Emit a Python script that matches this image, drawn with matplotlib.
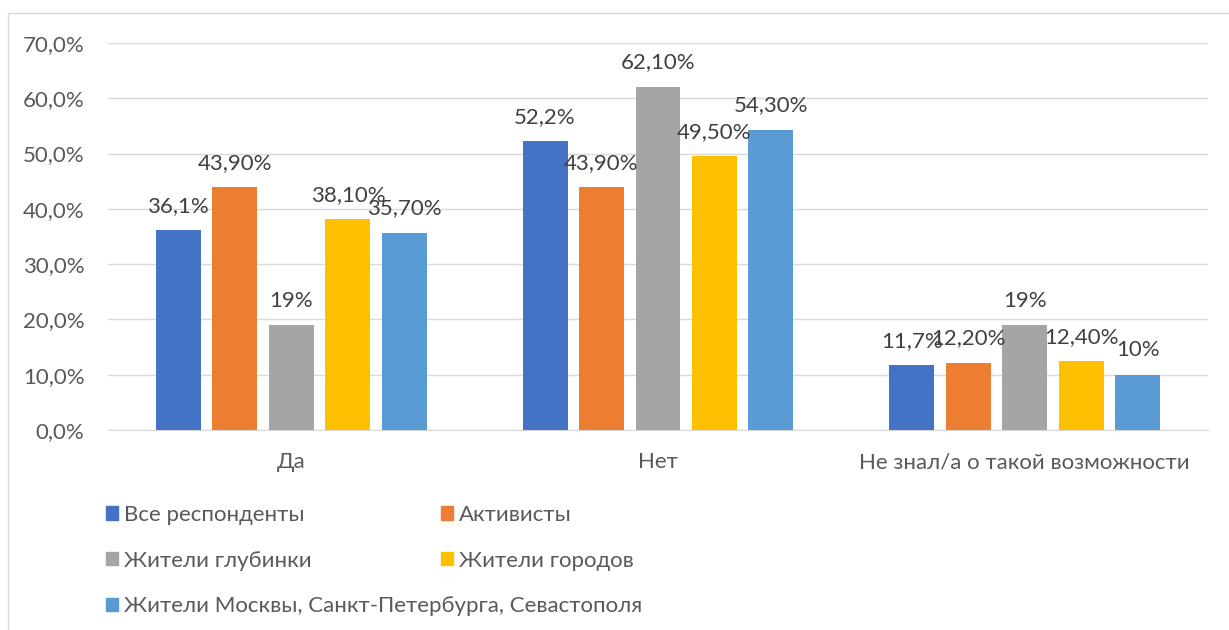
import matplotlib
matplotlib.use("Agg")
import matplotlib.pyplot as plt
from matplotlib.patches import Rectangle, Patch
import numpy as np

categories = ["Да", "Нет", "Не знал/а о такой возможности"]
series_names = ["Все респонденты", "Активисты", "Жители глубинки",
                "Жители городов", "Жители Москвы, Санкт-Петербурга, Севастополя"]
values = [
    [36.1, 52.2, 11.7],
    [43.9, 43.9, 12.2],
    [19.0, 62.1, 19.0],
    [38.1, 49.5, 12.4],
    [35.7, 54.3, 10.0],
]
labels = [
    ["36,1%", "52,2%", "11,7%"],
    ["43,90%", "43,90%", "12,20%"],
    ["19%", "62,10%", "19%"],
    ["38,10%", "49,50%", "12,40%"],
    ["35,70%", "54,30%", "10%"],
]
colors = ["#4472C4", "#ED7D31", "#A5A5A5", "#FFC000", "#5B9BD5"]
yticks = [0, 10, 20, 30, 40, 50, 60, 70]
ytick_labels = ["0,0%", "10,0%", "20,0%", "30,0%", "40,0%", "50,0%", "60,0%", "70,0%"]

plt.rcParams['font.family'] = ['Lato', 'DejaVu Sans']
txt = "#595959"
fs = 16

W, H = 1229, 630
fig = plt.figure(figsize=(W / 100, H / 100), dpi=100)
fig.patches.append(Rectangle((8 / W, -0.1), 1.2, 1 - 13 / H + 0.1, transform=fig.transFigure,
                             fill=False, edgecolor="#D9D9D9", linewidth=1))

ax = fig.add_axes([108 / W, 1 - 430 / H, (1208 - 108) / W, (430 - 43) / H])
x = np.arange(len(categories))
bw = 45 / 366.7
step = 56.5 / 366.7
for i, (name, vals) in enumerate(zip(series_names, values)):
    pos = x + (i - 2) * step
    bars = ax.bar(pos, vals, width=bw, color=colors[i], label=name, zorder=3)
    for b, lab in zip(bars, labels[i]):
        ax.annotate(lab, (b.get_x() + b.get_width() / 2, b.get_height()),
                    xytext=(0, 17.5), textcoords="offset points", ha="center", va="center",
                    fontsize=fs, color="#404040", zorder=4)

ax.set_xlim(-0.5, 2.5)
ax.set_ylim(0, 70)
ax.set_yticks(yticks)
ax.set_yticklabels(ytick_labels)
ax.set_xticks(x)
ax.set_xticklabels(categories)
ax.grid(axis="y", color="#D9D9D9", linewidth=1, zorder=0)
for s in ["top", "right", "left"]:
    ax.spines[s].set_visible(False)
ax.spines["bottom"].set_color("#D9D9D9")
ax.tick_params(axis="both", length=0, labelsize=fs, colors=txt)
ax.tick_params(axis="y", pad=17)
ax.tick_params(axis="x", pad=16)

handles = [Patch(color=c) for c in colors]
kw = dict(frameon=False, fontsize=fs, labelcolor=txt, handlelength=0.55, handleheight=0.55,
          handletextpad=0.25, labelspacing=1.15, borderaxespad=0, borderpad=0)
leg1 = fig.legend([handles[0], handles[2], handles[4]],
                  [series_names[0], series_names[2], series_names[4]],
                  loc="upper left", bbox_to_anchor=(106 / W, 1 - 505 / H), **kw)
leg2 = fig.legend([handles[1], handles[3]], [series_names[1], series_names[3]],
                  loc="upper left", bbox_to_anchor=(441 / W, 1 - 505 / H), **kw)

fig.savefig("out.png", dpi=100)
